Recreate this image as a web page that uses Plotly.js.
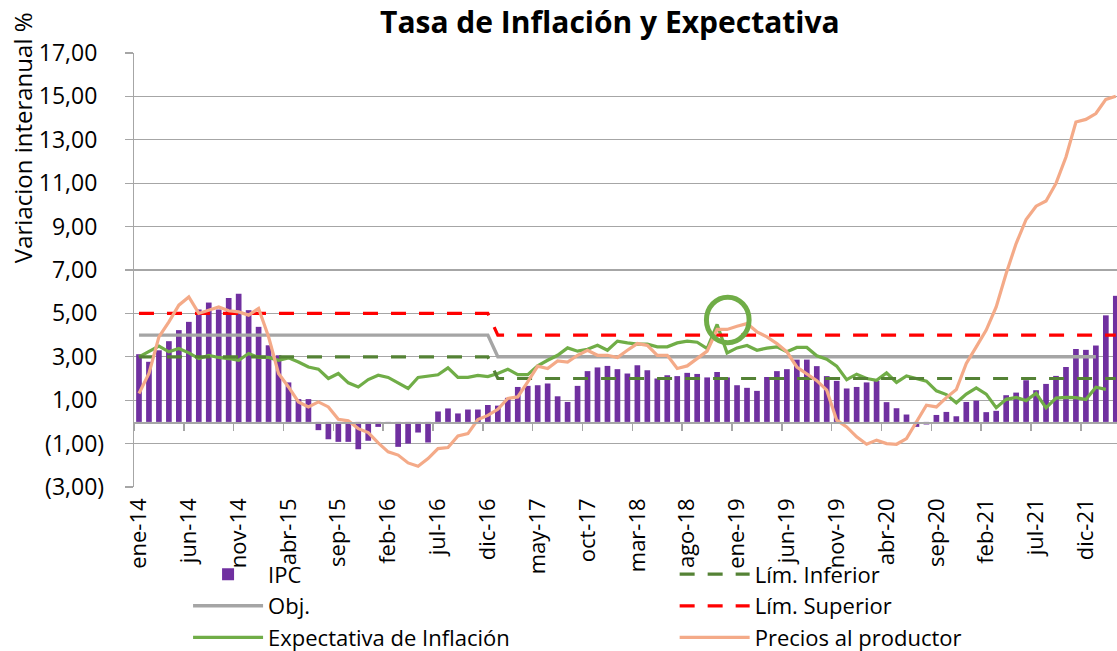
<!DOCTYPE html>
<html>
<head>
<meta charset="utf-8">
<script src="https://cdn.plot.ly/plotly-3.0.1.min.js"></script>
<style>html,body{margin:0;padding:0;background:#fff;}#chart{width:1117px;height:651px;}</style>
</head>
<body>
<div id="chart"></div>
<script>
// ---- Data ----
const months = [
 'ene-14','feb-14','mar-14','abr-14','may-14','jun-14','jul-14','ago-14','sep-14','oct-14','nov-14','dic-14',
 'ene-15','feb-15','mar-15','abr-15','may-15','jun-15','jul-15','ago-15','sep-15','oct-15','nov-15','dic-15',
 'ene-16','feb-16','mar-16','abr-16','may-16','jun-16','jul-16','ago-16','sep-16','oct-16','nov-16','dic-16',
 'ene-17','feb-17','mar-17','abr-17','may-17','jun-17','jul-17','ago-17','sep-17','oct-17','nov-17','dic-17',
 'ene-18','feb-18','mar-18','abr-18','may-18','jun-18','jul-18','ago-18','sep-18','oct-18','nov-18','dic-18',
 'ene-19','feb-19','mar-19','abr-19','may-19','jun-19','jul-19','ago-19','sep-19','oct-19','nov-19','dic-19',
 'ene-20','feb-20','mar-20','abr-20','may-20','jun-20','jul-20','ago-20','sep-20','oct-20','nov-20','dic-20',
 'ene-21','feb-21','mar-21','abr-21','may-21','jun-21','jul-21','ago-21','sep-21','oct-21','nov-21','dic-21',
 'ene-22','feb-22','mar-22'
];

const tickLabels = ['ene-14','jun-14','nov-14','abr-15','sep-15','feb-16','jul-16','dic-16','may-17','oct-17',
 'mar-18','ago-18','ene-19','jun-19','nov-19','abr-20','sep-20','feb-21','jul-21','dic-21'];

const yTickVals = [-3,-1,1,3,5,7,9,11,13,15,17];
const yTickText = ['(3,00)','(1,00)','1,00','3,00','5,00','7,00','9,00','11,00','13,00','15,00','17,00'];

const ipc = [
 3.12,2.77,3.30,3.72,4.23,4.61,5.18,5.50,5.18,5.71,5.90,5.15,
 4.38,3.53,3.07,1.82,1.05,1.05,-0.38,-0.80,-0.92,-0.92,-1.26,-0.87,
 -0.23,-0.09,-1.15,-1.00,-0.49,-0.95,0.48,0.62,0.39,0.57,0.57,0.78,
 0.75,1.11,1.61,1.66,1.69,1.77,1.18,0.92,1.66,2.34,2.51,2.58,
 2.43,2.23,2.61,2.38,2.00,2.15,2.11,2.26,2.21,2.05,2.30,2.05,
 1.69,1.57,1.43,2.07,2.34,2.43,2.87,2.87,2.57,2.11,1.89,1.54,
 1.61,1.82,1.89,0.91,0.63,0.34,-0.23,-0.12,0.32,0.46,0.26,0.92,
 0.98,0.45,0.51,1.23,1.35,1.92,1.46,1.75,2.12,2.53,3.36,3.32,
 3.52,4.91,5.81
];

const objetivo = [
 4,4,4,4,4,4,4,4,4,4,4,4, 4,4,4,4,4,4,4,4,4,4,4,4, 4,4,4,4,4,4,4,4,4,4,4,4,
 3,3,3,3,3,3,3,3,3,3,3,3, 3,3,3,3,3,3,3,3,3,3,3,3, 3,3,3,3,3,3,3,3,3,3,3,3,
 3,3,3,3,3,3,3,3,3,3,3,3, 3,3,3,3,3,3,3,3,3,3,3,3, 3,null,null
];

const expectativa = [
 3.00,3.23,3.49,3.23,3.38,3.18,2.92,3.06,2.97,2.92,2.84,3.15,
 2.97,2.97,2.84,2.95,2.76,2.53,2.43,2.00,2.23,1.80,1.61,1.95,
 2.15,2.05,1.80,1.54,2.05,2.11,2.17,2.49,2.05,2.05,2.14,2.09,
 2.23,2.43,2.18,2.18,2.58,2.84,3.07,3.41,3.26,3.35,3.53,3.30,
 3.72,3.64,3.58,3.58,3.46,3.46,3.64,3.72,3.67,3.38,4.49,3.18,
 3.41,3.52,3.30,3.40,3.46,3.23,3.43,3.43,3.05,2.89,2.57,1.95,
 2.20,2.00,1.92,2.26,1.82,2.12,2.00,1.88,1.43,1.26,0.88,1.28,
 1.57,1.28,0.65,1.04,1.13,0.98,1.32,0.65,1.10,1.13,1.12,1.03,
 1.60,1.50,null
];

const limInferior = [
 3,3,3,3,3,3,3,3,3,3,3,3, 3,3,3,3,3,3,3,3,3,3,3,3, 3,3,3,3,3,3,3,3,3,3,3,3,
 2,2,2,2,2,2,2,2,2,2,2,2, 2,2,2,2,2,2,2,2,2,2,2,2, 2,2,2,2,2,2,2,2,2,2,2,2,
 2,2,2,2,2,2,2,2,2,2,2,2, 2,2,2,2,2,2,2,2,2,2,2,2, 2,2,2
];

const limSuperior = [
 5,5,5,5,5,5,5,5,5,5,5,5, 5,5,5,5,5,5,5,5,5,5,5,5, 5,5,5,5,5,5,5,5,5,5,5,5,
 4,4,4,4,4,4,4,4,4,4,4,4, 4,4,4,4,4,4,4,4,4,4,4,4, 4,4,4,4,4,4,4,4,4,4,4,4,
 4,4,4,4,4,4,4,4,4,4,4,4, 4,4,4,4,4,4,4,4,4,4,4,4, 4,4,4
];

const preciosProductor = [
 1.31,2.23,3.92,4.61,5.38,5.76,5.00,5.15,5.30,5.12,5.07,4.92,
 5.23,3.92,2.23,1.61,0.92,0.69,0.92,0.69,0.12,0.05,-0.31,-0.49,
 -0.97,-1.38,-1.53,-1.89,-2.04,-1.69,-1.23,-1.18,-0.65,-0.54,0.11,0.30,
 0.58,1.08,1.15,1.84,2.57,2.46,2.81,2.76,3.07,3.30,3.07,3.07,
 2.97,3.30,3.61,3.53,3.07,3.07,2.46,2.58,2.92,3.26,4.26,4.26,
 4.41,4.53,4.15,3.92,3.61,3.23,2.53,2.20,1.90,1.46,0.08,-0.23,
 -0.69,-1.03,-0.84,-1.00,-1.03,-0.77,0.00,0.77,0.69,1.12,1.49,2.69,
 3.46,4.23,5.30,6.84,8.22,9.33,9.94,10.18,10.99,12.21,13.82,13.94,
 14.21,14.86,15.01
];

// highlight circle (category index / value units)
const highlight = {x0: 56.93, x1: 61.21, y0: 3.65, y1: 5.75};

// ---- Styles ----
const FONT = 'Open Sans, Noto Sans, sans-serif';
const GRID = '#A6A6A6';
const xRange = [-0.5, 98.12];
const yRange = [-3, 17];
const idx = months.map((m, i) => i);
// positive labels get an invisible ")" so digits align as in the original (accounting format)
const yTickShown = yTickText.map(t => t.startsWith('(') ? t : t + '<span style="color:rgba(0,0,0,0)">)</span>');

const traces = [
  {type:'bar', name:'IPC', x: months, y: ipc, marker:{color:'#7030A0'}, legend:'legend', hoverinfo:'x+y'},
  {type:'scatter', mode:'lines', name:'Obj.', x: months, y: objetivo, line:{color:'#A5A5A5', width:3.4}, legend:'legend'},
  {type:'scatter', mode:'lines', name:'Expectativa de Inflación', x: months, y: expectativa, line:{color:'#70AD47', width:3.2}, legend:'legend'},
  {type:'scatter', mode:'lines', name:'Lím. Inferior', x: months, y: limInferior, line:{color:'#548235', width:3.2, dash:'15px,13px'}, legend:'legend2'},
  {type:'scatter', mode:'lines', name:'Lím. Superior', x: months, y: limSuperior, line:{color:'#FF0000', width:3.2, dash:'15px,13px'}, legend:'legend2'},
  {type:'scatter', mode:'lines', name:'Precios al productor', x: months, y: preciosProductor, line:{color:'#F4AA88', width:3.2}, legend:'legend2'},
  // carrier for the zero-line axis (boundary ticks) and the short y tick marks
  {type:'scatter', mode:'lines', x: idx, y: ipc, xaxis:'x2', yaxis:'y2', opacity:0, line:{width:0}, showlegend:false, hoverinfo:'skip'}
];

const layout = {
  width: 1117, height: 651,
  margin: {l:134, r:0, t:53, b:164, autoexpand:false},
  paper_bgcolor:'#fff', plot_bgcolor:'#fff',
  font: {family: FONT, color:'#000', size:22},
  bargap: 0.43,
  showlegend: true,
  title: {text:'<b>Tasa de Inflación y Expectativa</b>', font:{family:FONT, size:30, color:'#000'},
          x: 0.546, xanchor:'center', y: 0.966, yanchor:'middle'},
  xaxis: {
    type:'category', categoryarray: months, categoryorder:'array',
    range: xRange, tickvals: tickLabels, ticktext: tickLabels, automargin:false,
    tickangle: -90, tickfont:{size:22, family:FONT}, ticks:'', showgrid:false,
    showline:false, zeroline:false, ticklabelstandoff: 6, fixedrange:true
  },
  xaxis2: {
    overlaying:'x', anchor:'free', position: 0.15, type:'linear', range: xRange,
    tick0: -0.5, dtick: 5, ticks:'outside', ticklen:7, tickwidth:1.5, tickcolor: GRID,
    showticklabels:false, showgrid:false, zeroline:false, automargin:false,
    showline:true, linecolor: GRID, linewidth:1.8
  },
  yaxis: {
    range: yRange, tickvals: yTickVals, ticktext: yTickShown, automargin:false,
    tickfont:{size:23, family:FONT}, ticks:'outside', ticklen:24, tickcolor:'rgba(0,0,0,0)',
    showgrid:true, gridcolor: GRID, gridwidth:1.3, zeroline:false,
    showline:true, linecolor: GRID, linewidth:1.3, fixedrange:true
  },
  yaxis2: {
    overlaying:'y', anchor:'x', side:'left', range: yRange, tickvals: yTickVals, automargin:false,
    ticks:'outside', ticklen:8, tickcolor: GRID, tickwidth:1.3, showticklabels:false,
    showgrid:false, zeroline:false, showline:false
  },
  legend: {x: 0.055, y: -0.153, xanchor:'left', yanchor:'top', bgcolor:'rgba(0,0,0,0)',
           font:{size:22, family:FONT}, itemwidth:70, orientation:'v', traceorder:'normal', tracegroupgap:0},
  legend2: {x: 0.55, y: -0.153, xanchor:'left', yanchor:'top', bgcolor:'rgba(0,0,0,0)',
           font:{size:22, family:FONT}, itemwidth:70, orientation:'v', traceorder:'normal', tracegroupgap:0},
  shapes: [
    {type:'circle', xref:'x', yref:'y', x0: highlight.x0, x1: highlight.x1, y0: highlight.y0, y1: highlight.y1,
     line:{color:'#70AD47', width:5}, fillcolor:'rgba(0,0,0,0)', layer:'above'}
  ],
  annotations: [
    {text:'Variacion interanual %', xref:'paper', yref:'paper', x:-0.114, y:0.806,
     xanchor:'center', yanchor:'middle', textangle:-90, showarrow:false,
     font:{size:24, family:FONT, color:'#000'}}
  ]
};

Plotly.newPlot('chart', traces, layout, {displayModeBar:false, staticPlot:true});
</script>
</body>
</html>
